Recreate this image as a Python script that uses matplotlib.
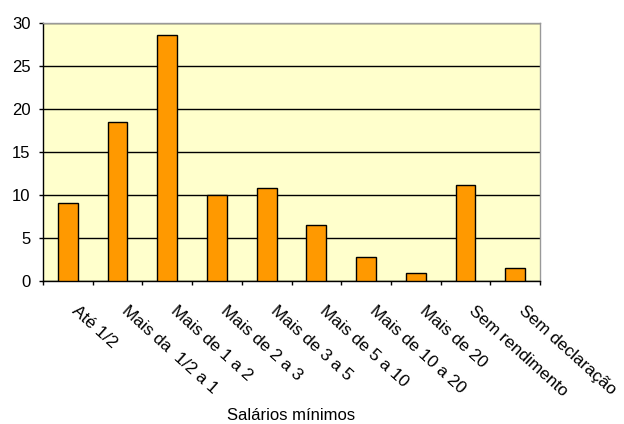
import matplotlib
matplotlib.use("Agg")
import matplotlib.pyplot as plt
import matplotlib.transforms as mtransforms
import numpy as np

plt.rcParams['font.family'] = ['Liberation Sans', 'DejaVu Sans']

categorias = ['Até 1/2', 'Mais da  1/2 a 1', 'Mais de 1 a 2', 'Mais de 2 a 3',
              'Mais de 3 a 5', 'Mais de 5 a 10', 'Mais de 10 a 20', 'Mais de 20',
              'Sem rendimento', 'Sem declaração']
valores = [9.1, 18.5, 28.6, 10.0, 10.8, 6.5, 2.75, 0.9, 11.15, 1.47]
y_ticks = [0, 5, 10, 15, 20, 25, 30]

W, H = 624, 424
fig = plt.figure(figsize=(W / 100, H / 100), dpi=100)
ax = fig.add_axes([43 / W, 1 - 281 / H, (540 - 43) / W, (281 - 22.7) / H])
ax.set_facecolor('#FFFFCC')

x = np.arange(len(categorias))
ax.bar(x, valores, width=0.4, color='#FF9900', edgecolor='black', linewidth=1.0, zorder=3)

ax.set_xlim(-0.5, len(categorias) - 0.5)
ax.set_ylim(0, 30)
ax.set_yticks(y_ticks)
ax.yaxis.grid(True, color='black', linewidth=1.0, zorder=1)
ax.set_axisbelow(True)

for s in ['top', 'right']:
    ax.spines[s].set_color('#999999')
    ax.spines[s].set_linewidth(1.0)
for s in ['left', 'bottom']:
    ax.spines[s].set_color('black')
    ax.spines[s].set_linewidth(1.0)

ax.tick_params(axis='y', direction='out', length=3, width=1, pad=6, labelsize=12)

# ticks on boundaries, labels at centres
ax.set_xticks(np.arange(-0.5, len(categorias)), labels=[])
ax.tick_params(axis='x', which='major', direction='out', length=3, width=1)
ax.set_xticks(x, minor=True)
ax.set_xticklabels(categorias, minor=True, rotation=-42, ha='left', va='top',
                   rotation_mode='anchor', fontsize=12.4)
ax.tick_params(axis='x', which='minor', length=0, pad=16)
offset = mtransforms.ScaledTranslation(11 / 100, 0, fig.dpi_scale_trans)
for lab in ax.get_xticklabels(minor=True):
    lab.set_transform(lab.get_transform() + offset)

fig.text(291 / W, 1 - 415 / H, 'Salários mínimos', ha='center', va='center', fontsize=12)

fig.savefig('out.png', dpi=100)
